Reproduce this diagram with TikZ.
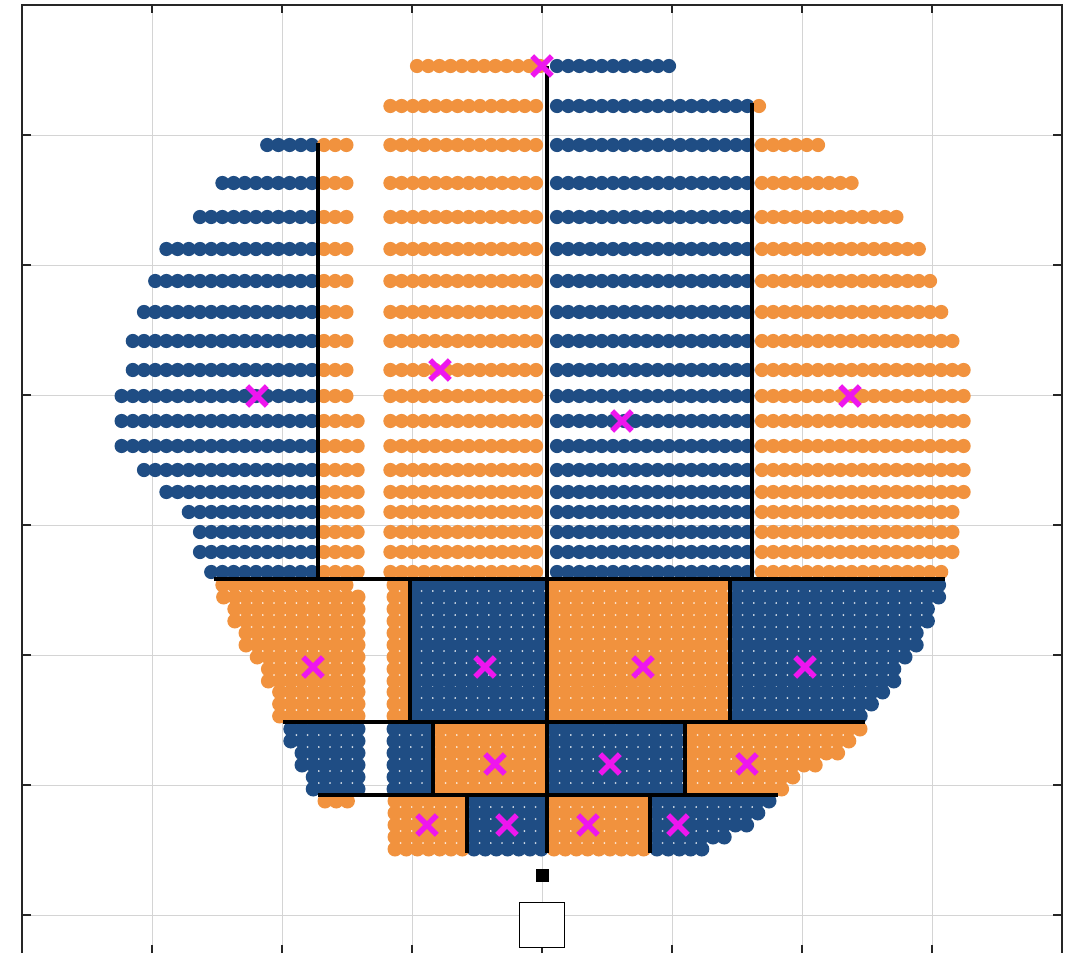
\documentclass[tikz,border=0pt]{standalone}
\usepackage{tikz}
\usetikzlibrary{shapes.misc}
\definecolor{dotblue}{RGB}{31,77,132}
\definecolor{dotorange}{RGB}{241,146,62}
\definecolor{markmagenta}{RGB}{238,22,238}
\newcommand{\dsep}{11.2}
% one row of dots: y, first x, last x, style (runs from the first x towards the last)
\newcommand{\dotrow}[4]{%
  \pgfmathtruncatemacro{\pDots}{round(abs(#3-#2)/\dsep)}%
  \foreach \dk in {0,...,\pDots}{\fill[#4] ({#2+sign(#3-#2)*\dk*\dsep},#1) circle;}%
}
\tikzset{
  bu/.style={fill=dotblue, radius=7.1pt},
  ou/.style={fill=dotorange, radius=7.1pt},
  bl/.style={fill=dotblue, radius=7.5pt},
  ol/.style={fill=dotorange, radius=7.5pt},
  gridline/.style={black!17, line width=0.8pt},
  frameline/.style={black!85, line width=1.1pt},
  splitline/.style={black, line width=4.6pt},
  xmark/.style={cross out, draw=markmagenta, line width=5.6pt, minimum size=14pt, inner sep=0pt},
}

\begin{document}
\begin{tikzpicture}[x=1pt,y=-1pt]
\useasboundingbox (0,0) rectangle (1067,953);
\fill[white] (0,0) rectangle (1067,953);
\foreach \gx in {152,282,...,932} \draw[gridline] (\gx,5) -- (\gx,953);
\foreach \gy in {135,265,...,915} \draw[gridline] (22,\gy) -- (1062,\gy);
\draw[frameline] (22,953) -- (22,5) -- (1062,5) -- (1062,953);
\foreach \gx in {152,282,...,932} {
  \draw[frameline] (\gx,5) -- (\gx,13);
  \draw[frameline] (\gx,953) -- (\gx,945);
}
\foreach \gy in {135,265,...,915} {
  \draw[frameline] (22,\gy) -- (31,\gy);
  \draw[frameline] (1062,\gy) -- (1053,\gy);
}

\dotrow{66}{417}{535}{ou}
\dotrow{66}{557}{666}{bu}
\dotrow{106}{536}{395}{ou}
\dotrow{106}{557}{745}{bu}
\dotrow{106}{759}{759}{ou}
\foreach \ry/\rl/\rs/\re in {145/270/347/814, 183/224/347/857, 217/200/347/891, 249/167/347/916,
  281/155/347/927, 312/144/347/939, 341/132/347/947, 370/132/347/959, 396/121/347/959,
  421/121/361/959, 446/121/361/959, 470/144/361/959, 492/167/361/959, 512/189/361/949,
  532/200/361/949, 552/200/361/949, 572/212/361/937} {
  \dotrow{\ry}{312}{\rl}{bu}
  \dotrow{\ry}{324}{\rs}{ou}
  \dotrow{\ry}{536}{395}{ou}
  \dotrow{\ry}{557}{745}{bu}
  \dotrow{\ry}{762}{\re}{ou}
}

\dotrow{585}{346}{221}{ol}
\foreach \ry/\rl/\re in {597/229/935, 609/235/931, 621/236/925, 633/242/918, 645/247/911,
  657/253/905, 669/263/899, 681/270/892, 692/275/886, 704/281/875, 716/283/861} {
  \dotrow{\ry}{358}{\rl}{ol}
}
\foreach \ry/\re in {585/940, 597/935, 609/931, 621/925, 633/918, 645/911,
  657/905, 669/899, 681/892, 692/886, 704/875, 716/861} {
  \dotrow{\ry}{394}{404}{ol}
  \dotrow{\ry}{416}{540}{bl}
  \dotrow{\ry}{554}{724}{ol}
  \dotrow{\ry}{737}{\re}{bl}
}
\foreach \ry/\rl/\re in {729/290/861, 741/295/853, 753/301/836, 765/303/816, 777/309/798, 789/317/783} {
  \dotrow{\ry}{358}{\rl}{bl}
  \dotrow{\ry}{394}{426}{bl}
  \dotrow{\ry}{440}{540}{ol}
  \dotrow{\ry}{554}{678}{bl}
  \dotrow{\ry}{692}{\re}{ol}
}
\dotrow{801}{325}{346}{ol}
\foreach \ry/\re in {801/773, 813/761, 825/745, 837/726, 849/705} {
  \dotrow{\ry}{395}{460}{ol}
  \dotrow{\ry}{474}{540}{bl}
  \dotrow{\ry}{554}{643}{ol}
  \dotrow{\ry}{657}{\re}{bl}
}

\draw[splitline] (318,143) -- (318,579);
\draw[splitline] (547,66) -- (547,853);
\draw[splitline] (752,103) -- (752,579);
\draw[splitline] (214,579) -- (945,579);
\draw[splitline] (410,579) -- (410,722);
\draw[splitline] (730,579) -- (730,722);
\draw[splitline] (283,722) -- (865,722);
\draw[splitline] (433,722) -- (433,795);
\draw[splitline] (685,722) -- (685,795);
\draw[splitline] (318,795) -- (778,795);
\draw[splitline] (467,795) -- (467,853);
\draw[splitline] (650,795) -- (650,853);

\node[xmark] (xTop) at (542,66) {};
\node[xmark] (xUa) at (257,396) {};
\node[xmark] (xUb) at (440,370) {};
\node[xmark] (xUc) at (622,421) {};
\node[xmark] (xUd) at (850,396) {};
\node[xmark] (xLa) at (313,667) {};
\node[xmark] (xLb) at (485,667) {};
\node[xmark] (xLc) at (643,667) {};
\node[xmark] (xLd) at (805,667) {};
\node[xmark] (xMa) at (495,764) {};
\node[xmark] (xMb) at (610,764) {};
\node[xmark] (xMc) at (747,764) {};
\node[xmark] (xBa) at (427,825) {};
\node[xmark] (xBb) at (507,825) {};
\node[xmark] (xBc) at (588,825) {};
\node[xmark] (xBd) at (678,825) {};

\node[draw=black, fill=black, minimum size=12pt, inner sep=0pt] (refDot) at (542,875) {};
\node[draw=black, fill=white, line width=1.6pt, minimum size=45pt, inner sep=0pt] (refBox) at (542,925) {};
\end{tikzpicture}
\end{document}
